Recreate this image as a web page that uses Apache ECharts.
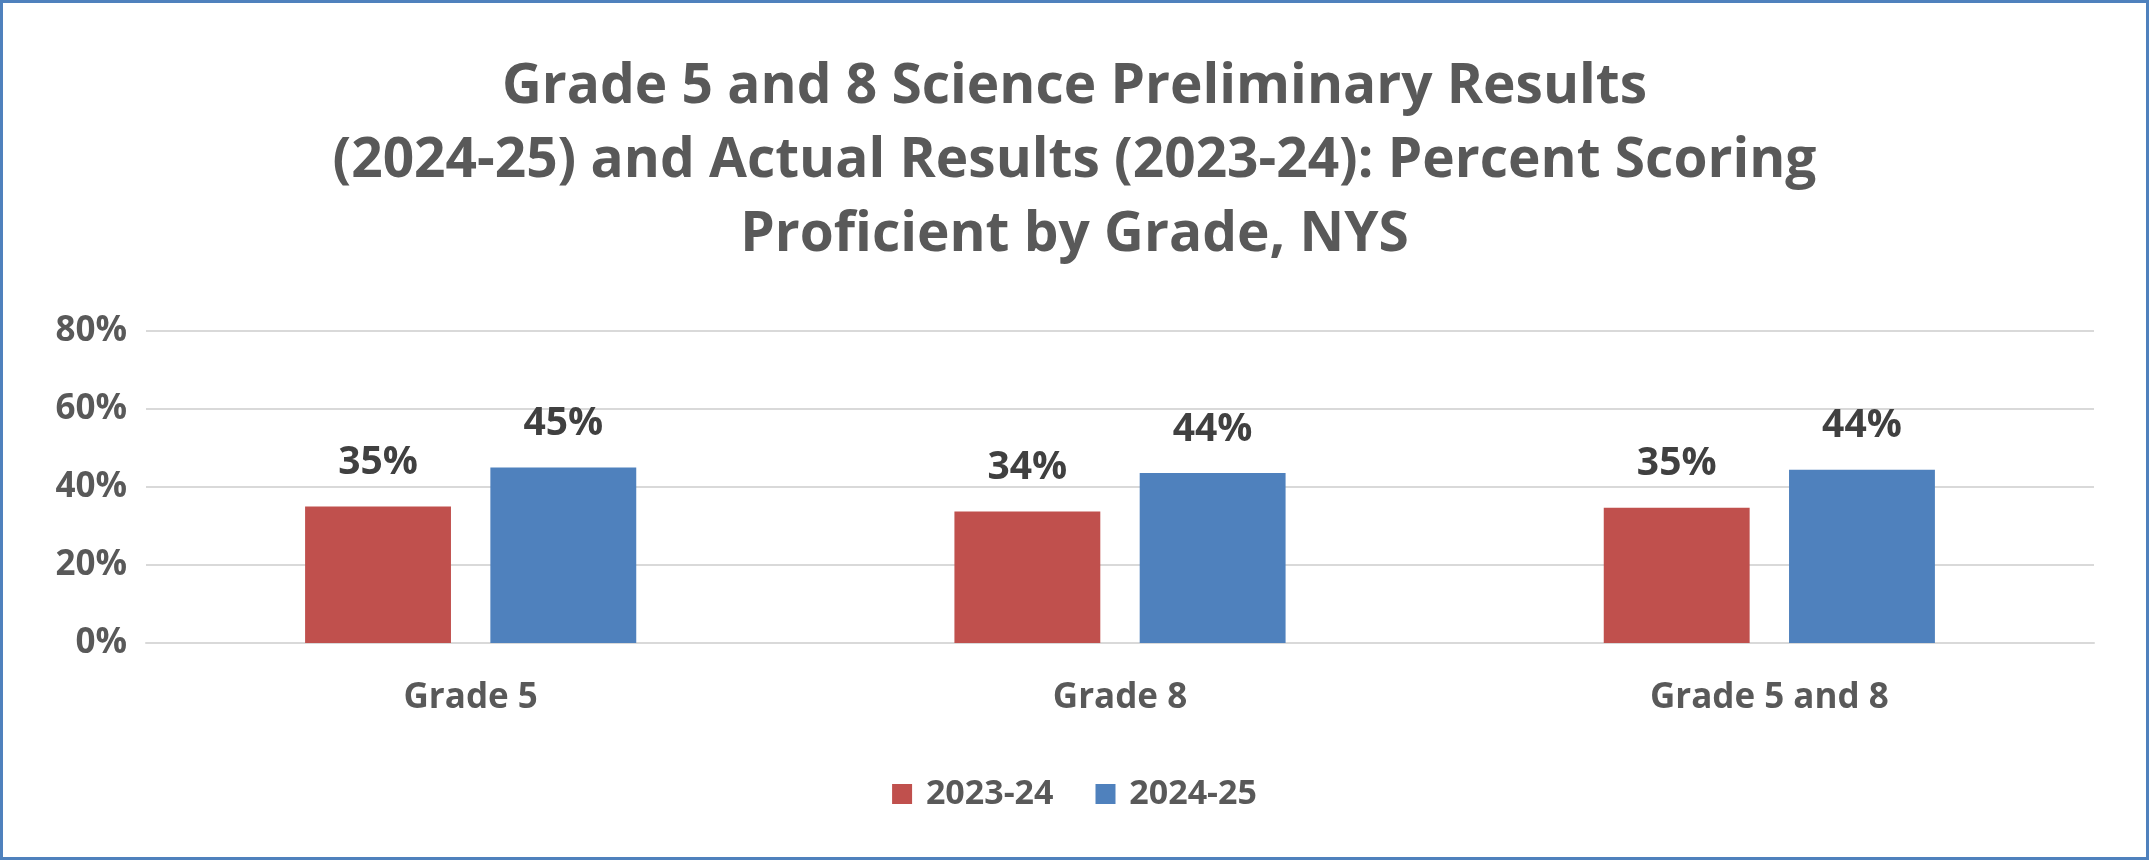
<!DOCTYPE html>
<html>
<head>
<meta charset="utf-8">
<script src="https://cdn.jsdelivr.net/npm/echarts@6/dist/echarts.min.js"></script>
<style>
  html, body { margin: 0; padding: 0; background: #fff; }
  #chart { width: 2149px; height: 860px; box-sizing: border-box; border: 3px solid #4f81bd; }
</style>
</head>
<body>
<div id="chart"></div>
<script>
const categories = ['Grade 5', 'Grade 8', 'Grade 5 and 8'];
const results2324 = [35, 33.7, 34.7];
const results2425 = [45, 43.6, 44.4];
const yTicks = { min: 0, max: 80, interval: 20 };

const chart = echarts.init(document.getElementById('chart'));
const font = '"Open Sans", "Noto Sans", sans-serif';

const labelStyle = {
    show: true,
    position: 'top',
    distance: 24,
    color: '#404040',
    fontFamily: font,
    fontWeight: 'bold',
    fontSize: 39,
    formatter: p => Math.round(p.value) + '%'
};

chart.setOption({
    backgroundColor: '#fff',
    animation: false,
    title: {
        text: 'Grade 5 and 8 Science Preliminary Results\n(2024-25) and Actual Results (2023-24): Percent Scoring\nProficient by Grade, NYS',
        left: 'center',
        top: 42,
        textStyle: {
            fontFamily: font,
            fontWeight: 'bold',
            fontSize: 55,
            lineHeight: 74,
            color: '#595959'
        }
    },
    legend: {
        bottom: 41,
        left: 'center',
        itemWidth: 20,
        itemHeight: 20,
        itemGap: 42,
        icon: 'rect',
        formatter: name => ' ' + name,
        textStyle: { fontFamily: font, fontWeight: 'bold', fontSize: 34, color: '#595959' }
    },
    grid: { left: 143, right: 52, top: 328, bottom: 214 },
    xAxis: {
        type: 'category',
        data: categories,
        axisTick: { show: false },
        axisLine: { lineStyle: { color: '#d9d9d9', width: 2 } },
        axisLabel: { margin: 38, color: '#595959', fontFamily: font, fontWeight: 'bold', fontSize: 35 }
    },
    yAxis: {
        type: 'value',
        min: yTicks.min,
        max: yTicks.max,
        interval: yTicks.interval,
        axisLine: { show: false },
        axisTick: { show: false },
        splitLine: { lineStyle: { color: '#d9d9d9', width: 2 } },
        axisLabel: { margin: 19, formatter: '{value}%', color: '#595959', fontFamily: font, fontWeight: 'bold', fontSize: 35 }
    },
    series: [
        {
            name: '2023-24',
            type: 'bar',
            data: results2324,
            itemStyle: { color: '#c0504d' },
            barGap: '27%',
            barCategoryGap: '49%',
            label: labelStyle
        },
        {
            name: '2024-25',
            type: 'bar',
            data: results2425,
            itemStyle: { color: '#4f81bd' },
            label: labelStyle
        }
    ]
});
</script>
</body>
</html>
